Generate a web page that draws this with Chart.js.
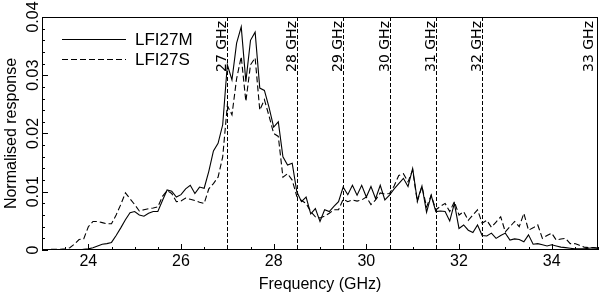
<!DOCTYPE html>
<html>
<head>
<meta charset="utf-8">
<script src="https://cdn.jsdelivr.net/npm/chart.js@4.4.0/dist/chart.umd.min.js"></script>
<style>
  body { margin: 0; background: #fff; }
  canvas { display: block; }
</style>
</head>
<body>
<canvas id="grafico" width="600" height="292"></canvas>
<script>
// DATA
const freq = [
  23.0, 23.1, 23.2, 23.3, 23.4, 23.5, 23.6, 23.7, 23.8, 23.9,
  24.0, 24.1, 24.2, 24.3, 24.4, 24.5, 24.6, 24.7, 24.8, 24.9,
  25.0, 25.1, 25.2, 25.3, 25.4, 25.5, 25.6, 25.7, 25.8, 25.9,
  26.0, 26.1, 26.2, 26.3, 26.4, 26.5, 26.6, 26.7, 26.8, 26.9,
  27.0, 27.1, 27.2, 27.3, 27.4, 27.5, 27.6, 27.7, 27.8, 27.9,
  28.0, 28.1, 28.2, 28.3, 28.4, 28.5, 28.6, 28.7, 28.8, 28.9,
  29.0, 29.1, 29.2, 29.3, 29.4, 29.5, 29.6, 29.7, 29.8, 29.9,
  30.0, 30.1, 30.2, 30.3, 30.4, 30.5, 30.6, 30.7, 30.8, 30.9,
  31.0, 31.1, 31.2, 31.3, 31.4, 31.5, 31.6, 31.7, 31.8, 31.9,
  32.0, 32.1, 32.2, 32.3, 32.4, 32.5, 32.6, 32.7, 32.8, 32.9,
  33.0, 33.1, 33.2, 33.3, 33.4, 33.5, 33.6, 33.7, 33.8, 33.9,
  34.0, 34.1, 34.2, 34.3, 34.4, 34.5, 34.6, 34.7, 34.8, 34.9,
  35.0
];

const lfi27m = [
  0, 0, 0, 0, 0, 0, 0, 0, 0, 0.0001,
  0.0002, 0.0004, 0.0007, 0.0010, 0.0011, 0.0013, 0.0025, 0.0038, 0.0052, 0.0064,
  0.0066, 0.0060, 0.0058, 0.0063, 0.0066, 0.0066, 0.0085, 0.0103, 0.0101, 0.0091,
  0.0095, 0.0105, 0.0111, 0.0097, 0.0108, 0.0106, 0.0135, 0.0170, 0.0183, 0.0215,
  0.0318, 0.0292, 0.0355, 0.0383, 0.0289, 0.0360, 0.0374, 0.0278, 0.0274, 0.0245,
  0.0211, 0.0220, 0.0160, 0.0146, 0.0149, 0.0100, 0.0083, 0.0091, 0.0062, 0.0071,
  0.0049, 0.0069, 0.0066, 0.0075, 0.0083, 0.0108, 0.0095, 0.0111, 0.0094, 0.0111,
  0.0091, 0.0109, 0.0088, 0.0111, 0.0086, 0.0094, 0.0105, 0.0114, 0.0123, 0.0109,
  0.0140, 0.0085, 0.0110, 0.0065, 0.0094, 0.0066, 0.0067, 0.0066, 0.0050, 0.0080,
  0.0037, 0.0043, 0.0034, 0.0030, 0.0043, 0.0025, 0.0024, 0.0029, 0.0020, 0.0025,
  0.0029, 0.0017, 0.0019, 0.0018, 0.0014, 0.0026, 0.0010, 0.0011, 0.0009, 0.0007,
  0.0009, 0.0007, 0.0005, 0.0004, 0.0003, 0.0002, 0.0002, 0.0002, 0.0003, 0.0004,
  0.0003
];

const lfi27s = [
  0, 0, 0.0001, 0.0001, 0.0001, 0.0002, 0.0004, 0.0010, 0.0018, 0.0019,
  0.0040, 0.0049, 0.0049, 0.0047, 0.0045, 0.0045, 0.0060, 0.0078, 0.0098, 0.0088,
  0.0078, 0.0067, 0.0069, 0.0071, 0.0072, 0.0074, 0.0092, 0.0102, 0.0097, 0.0083,
  0.0084, 0.0089, 0.0087, 0.0085, 0.0082, 0.0080, 0.0105, 0.0114, 0.0125, 0.0160,
  0.0248, 0.0232, 0.0294, 0.0332, 0.0255, 0.0318, 0.0330, 0.0240, 0.0258, 0.0230,
  0.0200, 0.0195, 0.0125, 0.0131, 0.0120, 0.0092, 0.0085, 0.0080, 0.0066, 0.0057,
  0.0055, 0.0058, 0.0063, 0.0069, 0.0069, 0.0087, 0.0083, 0.0086, 0.0084, 0.0086,
  0.0091, 0.0078, 0.0086, 0.0098, 0.0096, 0.0097, 0.0110, 0.0128, 0.0131, 0.0117,
  0.0137, 0.0083, 0.0109, 0.0074, 0.0094, 0.0069, 0.0075, 0.0080, 0.0066, 0.0083,
  0.0060, 0.0066, 0.0051, 0.0060, 0.0069, 0.0046, 0.0051, 0.0039, 0.0048, 0.0057,
  0.0031, 0.0040, 0.0049, 0.0040, 0.0063, 0.0034, 0.0038, 0.0043, 0.0020, 0.0025,
  0.0029, 0.0017, 0.0019, 0.0020, 0.0011, 0.0011, 0.0008, 0.0005, 0.0004, 0.0004,
  0.0003
];

const xTicks = [24, 26, 28, 30, 32, 34];
const yTicks = [0, 0.01, 0.02, 0.03, 0.04];

// vertical markers (the last one sits on the right frame)
const markerFreq = [27, 28.5, 29.5, 30.5, 31.5, 32.5, 35];
const markerLabels = ["27 GHz", "28 GHz", "29 GHz", "30 GHz", "31 GHz", "32 GHz", "33 GHz"];

const seriesNames = ["LFI27M", "LFI27S"];

// PLUGIN: frame, inward ticks, labels, markers and legend
const eixos = {
  id: "eixos",
  beforeDatasetsDraw(chart) {
    const { ctx, chartArea: a, scales: { x } } = chart;
    ctx.save();
    ctx.strokeStyle = "#000";
    ctx.lineWidth = 1;
    ctx.setLineDash([4, 2]);
    markerFreq.forEach((f) => {
      if (f >= x.max) return; // hidden under the frame
      const px = Math.round(x.getPixelForValue(f)) + 0.5;
      ctx.beginPath();
      ctx.moveTo(px, a.top);
      ctx.lineTo(px, a.bottom);
      ctx.stroke();
    });
    ctx.restore();
  },
  afterDatasetsDraw(chart) {
    const { ctx, chartArea: a, scales: { x, y } } = chart;
    ctx.save();
    ctx.strokeStyle = "#000";
    ctx.fillStyle = "#000";
    ctx.lineWidth = 1;

    // frame
    ctx.strokeRect(a.left + 0.5, a.top + 0.5, a.right - a.left - 1, a.bottom - a.top - 1);

    // x ticks
    ctx.beginPath();
    for (let f = 23; f <= 35.001; f += 0.5) {
      const px = Math.round(x.getPixelForValue(f)) + 0.5;
      const major = xTicks.some((t) => Math.abs(t - f) < 1e-6);
      ctx.moveTo(px, a.bottom);
      ctx.lineTo(px, a.bottom - (major ? 6 : 3));
    }
    // y ticks
    for (let v = 0; v <= 0.04001; v += 0.002) {
      const py = Math.round(y.getPixelForValue(v)) + 0.5;
      const major = yTicks.some((t) => Math.abs(t - v) < 1e-9);
      ctx.moveTo(a.left, py);
      ctx.lineTo(a.left + (major ? 6 : 3), py);
    }
    ctx.stroke();

    // x tick labels
    ctx.font = "16px 'Liberation Sans', Arial, sans-serif";
    ctx.textAlign = "center";
    ctx.textBaseline = "alphabetic";
    xTicks.forEach((t) => ctx.fillText(String(t), x.getPixelForValue(t), 266));

    // y tick labels (rotated)
    yTicks.forEach((t) => {
      ctx.save();
      ctx.translate(38, y.getPixelForValue(t));
      ctx.rotate(-Math.PI / 2);
      ctx.fillText(t === 0 ? "0" : t.toFixed(2), 0, 0);
      ctx.restore();
    });

    // axis titles
    ctx.fillText("Frequency (GHz)", (a.left + a.right) / 2, 288.5);
    ctx.save();
    ctx.translate(16, (a.top + a.bottom) / 2);
    ctx.rotate(-Math.PI / 2);
    ctx.fillText("Normalised response", 0, 0);
    ctx.restore();

    // marker labels
    ctx.font = "14px 'DejaVu Sans', sans-serif";
    ctx.textAlign = "right";
    markerFreq.forEach((f, i) => {
      let px = x.getPixelForValue(f) - 1;
      if (px > a.right - 5) px = a.right - 5;
      ctx.save();
      ctx.translate(px, a.top + 4);
      ctx.rotate(-Math.PI / 2);
      ctx.fillText(markerLabels[i], 0, 0);
      ctx.restore();
    });

    // legend
    const legY = [39.5, 59.5];
    ctx.font = "17px 'Liberation Sans', Arial, sans-serif";
    ctx.textAlign = "left";
    seriesNames.forEach((nome, i) => {
      ctx.setLineDash(i === 0 ? [] : [6, 3]);
      ctx.beginPath();
      ctx.moveTo(62, legY[i]);
      ctx.lineTo(126, legY[i]);
      ctx.stroke();
      ctx.fillText(nome, 135, legY[i] + 5.5);
    });
    ctx.restore();
  },
};

// CHART
const grafico = new Chart(document.querySelector("#grafico"), {
  type: "line",
  data: {
    datasets: [
      {
        label: seriesNames[0],
        data: freq.map((f, i) => ({ x: f, y: lfi27m[i] })),
        borderColor: "#000",
        borderWidth: 1.1,
        pointRadius: 0,
        tension: 0,
      },
      {
        label: seriesNames[1],
        data: freq.map((f, i) => ({ x: f, y: lfi27s[i] })),
        borderColor: "#000",
        borderWidth: 1.1,
        borderDash: [6, 3],
        pointRadius: 0,
        tension: 0,
      },
    ],
  },
  options: {
    responsive: false,
    animation: false,
    layout: { padding: { left: 42, top: 17, right: 2, bottom: 42 } },
    plugins: { legend: { display: false }, tooltip: { enabled: false } },
    scales: {
      x: { type: "linear", min: 23, max: 35, display: false },
      y: { type: "linear", min: 0, max: 0.04, display: false },
    },
  },
  plugins: [eixos],
});
</script>
</body>
</html>
